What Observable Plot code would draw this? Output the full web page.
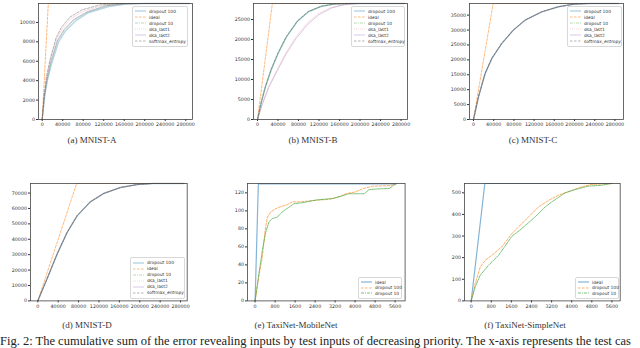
<!DOCTYPE html>
<html><head><meta charset="utf-8">
<script src="https://cdn.jsdelivr.net/npm/d3@7"></script>
<script src="https://cdn.jsdelivr.net/npm/@observablehq/plot@0.6"></script>
<style>
html,body{margin:0;padding:0;background:#fff}
body{width:640px;height:348px;overflow:hidden;position:relative;font-family:"DejaVu Sans",sans-serif}
.panel{position:absolute}
.cap{position:absolute;font-family:"Liberation Serif","Times New Roman",serif;font-size:9px;line-height:11px;color:#333;white-space:nowrap;transform:translateX(-50%)}
.fig{position:absolute;left:0;font-family:"Liberation Serif","Times New Roman",serif;font-size:12.5px;line-height:14px;color:#222;white-space:nowrap}
.legend{position:absolute;box-sizing:border-box;border:0.7px solid #d8d8d8;border-radius:2px;background:rgba(255,255,255,0.85);font-size:4.4px;color:#333;padding:1.5px 2px;display:flex;flex-direction:column;justify-content:space-around}
.legend .row{display:flex;align-items:center;white-space:nowrap}
.legend svg{margin-right:3px;flex:none}
</style></head><body>
<script>
// ---------- data ----------
const mnistXTicks = [0, 40000, 80000, 120000, 160000, 200000, 240000, 280000];
const taxiXTicks = [0, 800, 1600, 2400, 3200, 4000, 4800, 5600];
const aYTicks = [0, 2000, 4000, 6000, 8000, 10000];
const bYTicks = [0, 5000, 10000, 15000, 20000, 25000];
const cYTicks = [0, 5000, 10000, 15000, 20000, 25000, 30000, 35000];
const dYTicks = [0, 10000, 20000, 30000, 40000, 50000, 60000, 70000];
const eYTicks = [0, 20, 40, 60, 80, 100, 120];
const fYTicks = [0, 100, 200, 300, 400, 500];

// (a) MNIST-A
const aDropout100 = [[0,0],[4500,2300],[10000,4000],[18000,5700],[32000,8000],[45000,9100],[65000,10150],[90000,11000],[130000,11650],[165000,11900],[200000,11950],[287000,11950]];
const aIdeal = [[0,0],[11950,11950],[287000,11950]];
const aDropout10 = [[0,0],[4500,2350],[9500,4050],[17000,5800],[30000,8100],[43000,9200],[62000,10250],[88000,11050],[125000,11700],[160000,11920],[200000,11950],[287000,11950]];
const aDsaLast1 = [[0,0],[4000,2450],[8500,4250],[15500,6050],[28000,8300],[39000,9350],[57000,10450],[82000,11200],[118000,11750],[150000,11930],[190000,11950],[287000,11950]];
const aDsaLast2 = [[0,0],[4200,2400],[9000,4150],[16500,5950],[30000,8200],[42000,9250],[61000,10300],[87000,11100],[124000,11720],[158000,11920],[195000,11950],[287000,11950]];
const aSoftmax = [[0,0],[3800,2500],[8000,4300],[15000,6100],[27000,8400],[37000,9450],[54000,10550],[78000,11300],[112000,11800],[145000,11940],[185000,11950],[287000,11950]];

// (b) MNIST-B
const bDropout100 = [[0,0],[7000,4100],[15000,8000],[26500,12400],[40000,16500],[56000,20600],[78000,24600],[100000,27000],[125000,28300],[150000,28850],[180000,29000],[287000,29000]];
const bIdeal = [[0,0],[29000,29000],[287000,29000]];
const bDropout10 = [[0,0],[7200,4100],[15300,8000],[27000,12400],[40500,16500],[56500,20600],[78500,24600],[100500,27000],[125000,28300],[150000,28850],[180000,29000],[287000,29000]];
const bDsaLast1 = [[0,0],[9500,4000],[21000,8000],[37500,12300],[54000,16400],[73000,20300],[96000,24000],[118000,26400],[143000,28000],[168000,28750],[198000,29000],[287000,29000]];
const bDsaLast2 = [[0,0],[10000,4000],[22000,8000],[39000,12300],[56000,16400],[75000,20200],[98000,23800],[120000,26200],[145000,27900],[170000,28700],[200000,29000],[287000,29000]];
const bSoftmax = [[0,0],[6800,4100],[14700,8000],[26000,12400],[39500,16500],[55500,20600],[77500,24600],[99000,27000],[124000,28300],[149000,28850],[178000,29000],[287000,29000]];

// (c) MNIST-C
const cDropout100 = [[0,0],[9900,7600],[23000,15400],[36400,20500],[56000,25500],[79000,30000],[102000,33300],[135000,36100],[168000,37800],[200000,38700],[230000,38900],[287000,38900]];
const cIdeal = [[0,0],[38900,38900],[287000,38900]];
const cDropout10 = [[0,0],[10000,7600],[23200,15400],[36600,20500],[56300,25500],[79300,30000],[102300,33300],[135500,36100],[168500,37800],[200000,38700],[230000,38900],[287000,38900]];
const cDsaLast1 = [[0,0],[9800,7600],[22800,15400],[36200,20500],[55800,25500],[78800,30000],[101800,33300],[134800,36100],[167800,37800],[199500,38700],[229000,38900],[287000,38900]];
const cDsaLast2 = [[0,0],[10100,7600],[23300,15400],[36800,20500],[56600,25500],[79600,30000],[102700,33300],[136000,36100],[169000,37800],[201000,38700],[231000,38900],[287000,38900]];
const cSoftmax = [[0,0],[9700,7600],[22700,15400],[36000,20500],[55500,25500],[78500,30000],[101500,33300],[134500,36100],[167500,37800],[199000,38700],[229000,38900],[287000,38900]];

// (d) MNIST-D
const dDropout100 = [[0,0],[18400,14500],[38000,30500],[57600,44500],[77300,55300],[103000,64300],[129000,69700],[162000,73600],[195000,75500],[225000,76200],[287000,76200]];
const dIdeal = [[0,0],[76200,76200],[287000,76200]];
const dDropout10 = [[0,0],[18500,14500],[38200,30500],[57900,44500],[77600,55300],[103500,64300],[129500,69700],[162500,73600],[195500,75500],[226000,76200],[287000,76200]];
const dDsaLast1 = [[0,0],[18300,14500],[37900,30500],[57400,44500],[77000,55300],[102700,64300],[128700,69700],[161800,73600],[194800,75500],[225000,76200],[287000,76200]];
const dDsaLast2 = [[0,0],[18600,14500],[38300,30500],[58000,44500],[77800,55300],[103800,64300],[129800,69700],[163000,73600],[196000,75500],[226000,76200],[287000,76200]];
const dSoftmax = [[0,0],[18200,14500],[37800,30500],[57300,44500],[76900,55300],[102500,64300],[128500,69700],[161500,73600],[194500,75500],[224000,76200],[287000,76200]];

// (e) TaxiNet-MobileNet
const eIdeal = [[0,0],[130,130],[5640,130]];
const eDropout100 = [[0,0],[150,27],[290,49],[400,78],[490,93],[630,99],[800,102],[960,104],[1300,107],[1490,110],[1800,110],[2160,111],[2500,112],[2830,112.5],[3090,113.5],[3400,116],[3630,119],[4000,121],[4290,124.5],[4690,127.4],[5400,128],[5630,130]];
const eDropout10 = [[0,0],[150,30],[290,56],[420,76],[560,88],[690,91.5],[890,93],[1090,99],[1300,103],[1560,108],[1890,109],[2430,112],[2800,113],[3090,113.7],[3400,116],[3760,119],[4360,119],[4560,123.7],[5000,124.5],[5360,124.8],[5630,130]];

// (f) TaxiNet-SimpleNet
const fIdeal = [[0,0],[543,543],[5600,543]];
const fDropout100 = [[0,0],[160,80],[360,157],[560,188],[820,211],[1220,250],[1620,312],[2150,373],[2680,435],[3140,469],[3480,489],[3870,505],[4400,528],[4800,539],[5600,543]];
const fDropout10 = [[0,0],[160,65],[360,119],[690,165],[1090,211],[1620,299],[2020,335],[2550,389],[2950,435],[3210,458],[3740,500],[4140,515],[4670,531],[5200,535],[5600,543]];

// ---------- styles ----------
const S = {
  dropout100: {label: "dropout 100", color: "#1f77b4", opacity: 0.3, width: 1.5, dash: null},
  ideal: {label: "ideal", color: "#ff7f0e", opacity: 0.6, width: 0.9, dash: "2.5,1.5"},
  dropout10: {label: "dropout 10", color: "#2ca02c", opacity: 0.45, width: 0.8, dash: "3,1,1,1"},
  dsaLast1: {label: "dsa_last1", color: "#d62728", opacity: 0.22, width: 0.8, dash: "1,1"},
  dsaLast2: {label: "dsa_last2", color: "#9467bd", opacity: 0.45, width: 0.8, dash: null},
  softmax: {label: "softmax_entropy", color: "#555555", opacity: 0.55, width: 0.8, dash: "2.5,1.5"}
};
const T = {
  ideal: {label: "ideal", color: "#1f77b4", opacity: 0.55, width: 1.2, dash: null},
  dropout100: {label: "dropout 100", color: "#ff7f0e", opacity: 0.7, width: 0.9, dash: "2.5,1.5"},
  dropout10: {label: "dropout 10", color: "#2ca02c", opacity: 0.7, width: 0.9, dash: "3,1,1,1"}
};

const fmt = d3.format("d");

function drawPanel(cfg) {
  const padL = 32, padR = 6, padT = 3, padB = 14;
  const width = (cfg.R - cfg.L) + padL + padR;
  const height = (cfg.B - cfg.T) + padT + padB;
  const marks = cfg.series.map(s => Plot.line(s.data, {
    x: d => d[0], y: d => d[1], stroke: s.style.color, strokeOpacity: s.style.opacity,
    strokeWidth: s.style.width, strokeDasharray: s.style.dash || undefined
  }));
  marks.push(Plot.frame({stroke: "#444", strokeWidth: 0.8}));
  const chart = Plot.plot({
    width, height, marginLeft: padL, marginRight: padR, marginTop: padT, marginBottom: padB,
    x: {domain: cfg.xDomain, ticks: cfg.xTicks, tickFormat: fmt, tickSize: 2, tickPadding: 1.5, label: null},
    y: {domain: [0, cfg.yMax], ticks: cfg.yTicks, tickFormat: fmt, tickSize: 2, tickPadding: 1.5, label: null},
    style: {fontSize: "4.8px", fontFamily: "DejaVu Sans", color: "#333", background: "transparent", overflow: "visible"},
    marks
  });
  const div = document.createElement("div");
  div.className = "panel";
  div.style.left = (cfg.L - padL) + "px";
  div.style.top = (cfg.T - padT) + "px";
  div.appendChild(chart);
  document.body.appendChild(div);

  const lg = document.createElement("div");
  lg.className = "legend";
  const [lx, ly, lw, lh] = cfg.legend;
  lg.style.left = lx + "px"; lg.style.top = ly + "px"; lg.style.width = lw + "px"; lg.style.height = lh + "px";
  for (const s of cfg.series) {
    const row = document.createElement("div");
    row.className = "row";
    row.innerHTML = `<svg width="11" height="4"><line x1="0" y1="2" x2="11" y2="2" stroke="${s.style.color}" stroke-opacity="${s.style.opacity}" stroke-width="${s.style.width}" ${s.style.dash ? `stroke-dasharray="${s.style.dash}"` : ""}/></svg><span>${s.style.label}</span>`;
    lg.appendChild(row);
  }
  document.body.appendChild(lg);
}

function mnistSeries(d100, ideal, d10, l1, l2, sm) {
  return [
    {data: d100, style: S.dropout100}, {data: ideal, style: S.ideal}, {data: d10, style: S.dropout10},
    {data: l1, style: S.dsaLast1}, {data: l2, style: S.dsaLast2}, {data: sm, style: S.softmax}
  ];
}
function taxiSeries(ideal, d100, d10) {
  return [{data: ideal, style: T.ideal}, {data: d100, style: T.dropout100}, {data: d10, style: T.dropout10}];
}

drawPanel({L: 38, R: 192, T: 3.3, B: 119.3, xDomain: [-7200, 293200], yMax: 11950, xTicks: mnistXTicks, yTicks: aYTicks,
  series: mnistSeries(aDropout100, aIdeal, aDropout10, aDsaLast1, aDsaLast2, aSoftmax), legend: [132, 5.5, 56, 41]});
drawPanel({L: 252.7, R: 406.7, T: 3.3, B: 119.3, xDomain: [-7800, 292600], yMax: 29000, xTicks: mnistXTicks, yTicks: bYTicks,
  series: mnistSeries(bDropout100, bIdeal, bDropout10, bDsaLast1, bDsaLast2, bSoftmax), legend: [351, 5.5, 54, 41]});
drawPanel({L: 469.3, R: 623.3, T: 3.3, B: 119.3, xDomain: [-7900, 297000], yMax: 38900, xTicks: mnistXTicks, yTicks: cYTicks,
  series: mnistSeries(cDropout100, cIdeal, cDropout10, cDsaLast1, cDsaLast2, cSoftmax), legend: [567, 5.5, 55, 41]});
drawPanel({L: 30, R: 186.7, T: 183.3, B: 300.7, xDomain: [-14300, 293000], yMax: 76200, xTicks: mnistXTicks, yTicks: dYTicks,
  series: mnistSeries(dDropout100, dIdeal, dDropout10, dDsaLast1, dDsaLast2, dSoftmax), legend: [130, 257, 55, 41.5]});
drawPanel({L: 246.7, R: 404.3, T: 183.3, B: 300.7, xDomain: [-304, 6000], yMax: 130.4, xTicks: taxiXTicks, yTicks: eYTicks,
  series: taxiSeries(eIdeal, eDropout100, eDropout10), legend: [358, 277, 44, 21.5]});
drawPanel({L: 464.3, R: 620, T: 183.3, B: 300.7, xDomain: [-267, 5930], yMax: 543, xTicks: taxiXTicks, yTicks: fYTicks,
  series: taxiSeries(fIdeal, fDropout100, fDropout10), legend: [575, 277, 43.5, 21.5]});

// captions
const captions = [
  ["(a) MNIST-A", 92, 135], ["(b) MNIST-B", 313, 135], ["(c) MNIST-C", 533, 135],
  ["(d) MNIST-D", 87, 320], ["(e) TaxiNet-MobileNet", 296, 320], ["(f) TaxiNet-SimpleNet", 525, 320]
];
for (const [t, x, y] of captions) {
  const c = document.createElement("div");
  c.className = "cap"; c.textContent = t; c.style.left = x + "px"; c.style.top = y + "px";
  document.body.appendChild(c);
}
const fig = document.createElement("div");
fig.className = "fig";
fig.style.top = "334px";
fig.textContent = "Fig. 2: The cumulative sum of the error revealing inputs by test inputs of decreasing priority. The x-axis represents the test cas";
document.body.appendChild(fig);
</script>
</body></html>
